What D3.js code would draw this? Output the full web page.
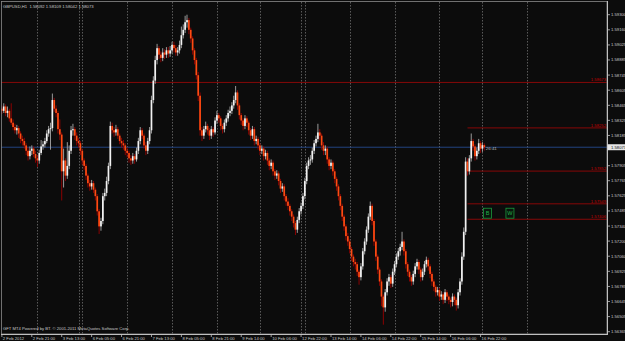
<!DOCTYPE html>
<html><head><meta charset="utf-8">
<script src="https://cdn.jsdelivr.net/npm/d3@7"></script>
<style>html,body{margin:0;padding:0;background:#0c0c0c;overflow:hidden}</style>
</head><body>
<svg id="c" width="625" height="341"></svg>
<script>
const symbol = "GBPUSD,H1";
const lastOHLC = ["1.58092","1.58109","1.58042","1.58073"];
const copyright = "GFT MT4 Powered by BT. \u00a9 2001-2011 MetaQuotes Software Corp.";
const open = [
1.5845,1.5843,1.5841,1.5845,1.5839,1.5841,1.5834,1.5830,1.5826,1.5823,
1.5825,1.5820,1.5815,1.5813,1.5809,1.5804,1.5799,1.5804,1.5806,1.5801,
1.5797,1.5795,1.5802,1.5808,1.5810,1.5813,1.5820,1.5824,1.5825,1.5851,
1.5843,1.5839,1.5824,1.5819,1.5785,1.5795,1.5781,1.5790,1.5804,1.5823,
1.5824,1.5818,1.5813,1.5811,1.5804,1.5795,1.5790,1.5781,1.5774,1.5771,
1.5774,1.5768,1.5762,1.5748,1.5734,1.5739,1.5762,1.5765,1.5776,1.5790,
1.5827,1.5823,1.5821,1.5824,1.5818,1.5813,1.5811,1.5809,1.5804,1.5802,
1.5797,1.5795,1.5799,1.5796,1.5804,1.5813,1.5823,1.5818,1.5809,1.5804,
1.5813,1.5823,1.5851,1.5869,1.5888,1.5899,1.5893,1.5890,1.5895,1.5893,
1.5897,1.5894,1.5897,1.5902,1.5899,1.5895,1.5897,1.5902,1.5911,1.5916,
1.5923,1.5925,1.5916,1.5908,1.5897,1.5888,1.5874,1.5855,1.5823,1.5818,
1.5824,1.5827,1.5823,1.5818,1.5824,1.5821,1.5832,1.5837,1.5834,1.5827,
1.5824,1.5830,1.5834,1.5839,1.5841,1.5846,1.5851,1.5858,1.5846,1.5837,
1.5832,1.5827,1.5834,1.5830,1.5823,1.5818,1.5824,1.5813,1.5815,1.5809,
1.5804,1.5806,1.5799,1.5802,1.5795,1.5790,1.5793,1.5785,1.5781,1.5783,
1.5776,1.5769,1.5771,1.5762,1.5757,1.5753,1.5748,1.5743,1.5737,1.5731,
1.5740,1.5748,1.5753,1.5762,1.5776,1.5790,1.5795,1.5796,1.5804,1.5811,
1.5815,1.5821,1.5818,1.5809,1.5804,1.5806,1.5796,1.5790,1.5793,1.5785,
1.5778,1.5771,1.5762,1.5753,1.5743,1.5734,1.5725,1.5720,1.5713,1.5706,
1.5701,1.5699,1.5692,1.5687,1.5697,1.5711,1.5720,1.5731,1.5743,1.5753,
1.5739,1.5720,1.5706,1.5694,1.5683,1.5669,1.5659,1.5673,1.5683,1.5687,
1.5681,1.5692,1.5699,1.5706,1.5711,1.5715,1.5720,1.5711,1.5699,1.5692,
1.5687,1.5683,1.5690,1.5697,1.5701,1.5694,1.5687,1.5692,1.5699,1.5703,
1.5697,1.5690,1.5683,1.5678,1.5673,1.5675,1.5669,1.5671,1.5666,1.5673,
1.5669,1.5666,1.5664,1.5669,1.5666,1.5661,1.5673,1.5683,1.5706,1.5729,
1.5794,1.5785,1.5797,1.5813,1.5808,1.5799,1.5804,1.5811,1.5806,1.58092];
const high = [
1.5849,1.5846,1.5848,1.5847,1.5845,1.5843,1.5848,1.5833,1.5829,1.5828,
1.5827,1.5822,1.5818,1.5816,1.5811,1.5807,1.5808,1.5809,1.5808,1.5804,
1.5800,1.5805,1.5814,1.5813,1.5816,1.5823,1.5827,1.5830,1.5857,1.5853,
1.5846,1.5841,1.5833,1.5821,1.5806,1.5797,1.5812,1.5809,1.5827,1.5829,
1.5826,1.5821,1.5816,1.5813,1.5806,1.5797,1.5792,1.5783,1.5777,1.5777,
1.5776,1.5770,1.5764,1.5750,1.5742,1.5765,1.5769,1.5780,1.5793,1.5831,
1.5830,1.5826,1.5828,1.5826,1.5820,1.5816,1.5814,1.5811,1.5807,1.5804,
1.5800,1.5802,1.5801,1.5807,1.5816,1.5826,1.5825,1.5820,1.5812,1.5816,
1.5826,1.5855,1.5873,1.5892,1.5903,1.5901,1.5896,1.5899,1.5898,1.5900,
1.5900,1.5901,1.5905,1.5905,1.5902,1.5900,1.5906,1.5919,1.5921,1.5929,
1.5930,1.5927,1.5918,1.5910,1.5899,1.5890,1.5877,1.5858,1.5826,1.5827,
1.5831,1.5829,1.5825,1.5827,1.5826,1.5835,1.5841,1.5839,1.5836,1.5829,
1.5833,1.5837,1.5842,1.5845,1.5849,1.5855,1.5864,1.5860,1.5848,1.5839,
1.5834,1.5837,1.5836,1.5832,1.5825,1.5827,1.5826,1.5818,1.5817,1.5811,
1.5809,1.5808,1.5805,1.5804,1.5797,1.5796,1.5795,1.5787,1.5786,1.5785,
1.5778,1.5774,1.5773,1.5764,1.5760,1.5755,1.5750,1.5745,1.5739,1.5743,
1.5751,1.5756,1.5765,1.5779,1.5793,1.5798,1.5800,1.5807,1.5814,1.5818,
1.5829,1.5824,1.5820,1.5812,1.5809,1.5808,1.5798,1.5796,1.5795,1.5787,
1.5780,1.5773,1.5764,1.5755,1.5745,1.5736,1.5728,1.5722,1.5715,1.5708,
1.5704,1.5701,1.5694,1.5700,1.5714,1.5723,1.5734,1.5746,1.5757,1.5755,
1.5741,1.5722,1.5708,1.5696,1.5685,1.5671,1.5676,1.5686,1.5690,1.5689,
1.5695,1.5702,1.5709,1.5714,1.5718,1.5729,1.5722,1.5713,1.5701,1.5694,
1.5689,1.5693,1.5700,1.5704,1.5703,1.5696,1.5695,1.5702,1.5706,1.5705,
1.5699,1.5692,1.5685,1.5680,1.5678,1.5677,1.5674,1.5673,1.5676,1.5675,
1.5671,1.5668,1.5672,1.5671,1.5668,1.5676,1.5686,1.5710,1.5733,1.5798,
1.5797,1.5800,1.5820,1.5815,1.5810,1.5807,1.5815,1.5813,1.5812,1.58109];
const low = [
1.5840,1.5838,1.5839,1.5836,1.5835,1.5831,1.5828,1.5823,1.5820,1.5819,
1.5816,1.5811,1.5809,1.5806,1.5800,1.5795,1.5796,1.5800,1.5798,1.5793,
1.5789,1.5792,1.5800,1.5805,1.5807,1.5811,1.5817,1.5805,1.5822,1.5840,
1.5835,1.5820,1.5814,1.5758,1.5770,1.5776,1.5778,1.5787,1.5801,1.5818,
1.5814,1.5809,1.5807,1.5800,1.5791,1.5786,1.5777,1.5770,1.5767,1.5768,
1.5765,1.5758,1.5744,1.5727,1.5730,1.5736,1.5758,1.5762,1.5773,1.5787,
1.5820,1.5817,1.5818,1.5815,1.5810,1.5807,1.5805,1.5800,1.5798,1.5793,
1.5791,1.5792,1.5792,1.5794,1.5801,1.5810,1.5815,1.5806,1.5800,1.5801,
1.5810,1.5820,1.5848,1.5866,1.5884,1.5889,1.5886,1.5887,1.5889,1.5890,
1.5890,1.5891,1.5894,1.5895,1.5892,1.5892,1.5894,1.5899,1.5908,1.5913,
1.5918,1.5912,1.5904,1.5893,1.5884,1.5870,1.5850,1.5818,1.5813,1.5815,
1.5821,1.5819,1.5814,1.5815,1.5817,1.5819,1.5829,1.5830,1.5823,1.5820,
1.5821,1.5827,1.5831,1.5836,1.5838,1.5843,1.5848,1.5842,1.5833,1.5828,
1.5823,1.5824,1.5826,1.5819,1.5814,1.5815,1.5809,1.5810,1.5805,1.5800,
1.5801,1.5795,1.5796,1.5791,1.5786,1.5787,1.5781,1.5777,1.5778,1.5772,
1.5765,1.5766,1.5758,1.5753,1.5749,1.5744,1.5739,1.5733,1.5726,1.5728,
1.5737,1.5745,1.5750,1.5759,1.5773,1.5787,1.5791,1.5793,1.5801,1.5808,
1.5812,1.5814,1.5805,1.5800,1.5800,1.5792,1.5786,1.5787,1.5781,1.5774,
1.5767,1.5758,1.5749,1.5739,1.5730,1.5721,1.5716,1.5709,1.5702,1.5697,
1.5694,1.5688,1.5680,1.5684,1.5694,1.5708,1.5717,1.5728,1.5740,1.5735,
1.5716,1.5702,1.5690,1.5679,1.5660,1.5643,1.5655,1.5670,1.5679,1.5677,
1.5678,1.5689,1.5696,1.5703,1.5707,1.5712,1.5707,1.5695,1.5688,1.5683,
1.5679,1.5680,1.5687,1.5694,1.5690,1.5683,1.5684,1.5689,1.5696,1.5693,
1.5686,1.5679,1.5674,1.5669,1.5670,1.5665,1.5666,1.5662,1.5663,1.5665,
1.5662,1.5659,1.5660,1.5661,1.5656,1.5658,1.5670,1.5680,1.5703,1.5726,
1.5781,1.5782,1.5794,1.5804,1.5795,1.5796,1.5801,1.5802,1.5803,1.58042];
const close = [
1.5843,1.5841,1.5845,1.5839,1.5841,1.5834,1.5830,1.5826,1.5823,1.5825,
1.5820,1.5815,1.5813,1.5809,1.5804,1.5799,1.5804,1.5806,1.5801,1.5797,
1.5795,1.5802,1.5808,1.5810,1.5813,1.5820,1.5824,1.5825,1.5851,1.5843,
1.5839,1.5824,1.5819,1.5785,1.5795,1.5781,1.5790,1.5804,1.5823,1.5824,
1.5818,1.5813,1.5811,1.5804,1.5795,1.5790,1.5781,1.5774,1.5771,1.5774,
1.5768,1.5762,1.5748,1.5734,1.5739,1.5762,1.5765,1.5776,1.5790,1.5827,
1.5823,1.5821,1.5824,1.5818,1.5813,1.5811,1.5809,1.5804,1.5802,1.5797,
1.5795,1.5799,1.5796,1.5804,1.5813,1.5823,1.5818,1.5809,1.5804,1.5813,
1.5823,1.5851,1.5869,1.5888,1.5899,1.5893,1.5890,1.5895,1.5893,1.5897,
1.5894,1.5897,1.5902,1.5899,1.5895,1.5897,1.5902,1.5911,1.5916,1.5923,
1.5925,1.5916,1.5908,1.5897,1.5888,1.5874,1.5855,1.5823,1.5818,1.5824,
1.5827,1.5823,1.5818,1.5824,1.5821,1.5832,1.5837,1.5834,1.5827,1.5824,
1.5830,1.5834,1.5839,1.5841,1.5846,1.5851,1.5858,1.5846,1.5837,1.5832,
1.5827,1.5834,1.5830,1.5823,1.5818,1.5824,1.5813,1.5815,1.5809,1.5804,
1.5806,1.5799,1.5802,1.5795,1.5790,1.5793,1.5785,1.5781,1.5783,1.5776,
1.5769,1.5771,1.5762,1.5757,1.5753,1.5748,1.5743,1.5737,1.5731,1.5740,
1.5748,1.5753,1.5762,1.5776,1.5790,1.5795,1.5796,1.5804,1.5811,1.5815,
1.5821,1.5818,1.5809,1.5804,1.5806,1.5796,1.5790,1.5793,1.5785,1.5778,
1.5771,1.5762,1.5753,1.5743,1.5734,1.5725,1.5720,1.5713,1.5706,1.5701,
1.5699,1.5692,1.5687,1.5697,1.5711,1.5720,1.5731,1.5743,1.5753,1.5739,
1.5720,1.5706,1.5694,1.5683,1.5669,1.5659,1.5673,1.5683,1.5687,1.5681,
1.5692,1.5699,1.5706,1.5711,1.5715,1.5720,1.5711,1.5699,1.5692,1.5687,
1.5683,1.5690,1.5697,1.5701,1.5694,1.5687,1.5692,1.5699,1.5703,1.5697,
1.5690,1.5683,1.5678,1.5673,1.5675,1.5669,1.5671,1.5666,1.5673,1.5669,
1.5666,1.5664,1.5669,1.5666,1.5661,1.5673,1.5683,1.5706,1.5729,1.5794,
1.5785,1.5797,1.5813,1.5808,1.5799,1.5804,1.5811,1.5806,1.58092,1.58073];

const priceTicks = [1.59300,1.59160,1.59020,1.58881,1.58741,1.58601,1.58461,1.58322,1.58182,1.58042,1.57902,1.57763,1.57623,1.57483,1.57343,1.57204,1.57064,1.56924,1.56784,1.56645,1.56505,1.56365];
const priceTickLabels = ["1.59300","1.59160","1.59025","1.58885","1.58745","1.58605","1.58465","1.58325","1.58185","1.58045","1.57905","1.57765","1.57625","1.57485","1.57340","1.57200","1.57060","1.56925","1.56785","1.56645","1.56505","1.56365"];
const timeTickBars = [1,17,33,49,65,81,97,113,129,145,161,177,193,209,225,241,257];
const timeTickLabels = ["2 Feb 2012","2 Feb 21:00","3 Feb 13:00","6 Feb 05:00","6 Feb 21:00","7 Feb 13:00","8 Feb 05:00","8 Feb 21:00","9 Feb 14:00","10 Feb 06:00","12 Feb 22:00","13 Feb 14:00","14 Feb 06:00","14 Feb 22:00","15 Feb 14:00","16 Feb 06:00","16 Feb 22:00"];
const separatorBars = [20,42,44,68,92,116,139,161,163,187,211,235,258,282];
const levelPrices = [1.58673,1.58252,1.57852,1.57549,1.57406];
const levelLabels = ["1.58673","1.58252","1.57852","1.57549","1.57406"];
const levelStartBars = [0,250,250,250,250];
const bidPrice = 1.58073;
const bidLabel = "1.58073";
const countdown = "26:41";
const markerBars = [260.7,272.7];
const markerPrice = 1.57462;
const markerGlyphs = ["B","W"];

const W = 625, H = 341, plotR = 607, plotB = 334;
const svg = d3.select("#c");
const font = "'Liberation Sans', Arial, sans-serif";
svg.append("rect").attr("width",W).attr("height",H).attr("fill","#0c0c0c");

const x = d3.scaleLinear().domain([0, 324.6]).range([0, plotR]);
const y = d3.scaleLinear().domain([1.56365, 1.59300]).range([331.7, 14.7]);

svg.append("defs").append("clipPath").attr("id","pc")
  .append("rect").attr("x",1).attr("y",1).attr("width",plotR-1).attr("height",plotB-1);
const plot = svg.append("g").attr("clip-path","url(#pc)");

// separators
plot.selectAll("line.sep").data(separatorBars).join("line")
  .attr("x1",d=>Math.round(x(d))+0.5).attr("x2",d=>Math.round(x(d))+0.5)
  .attr("y1",2).attr("y2",plotB)
  .attr("stroke","#6e6e6e").attr("stroke-width",0.8).attr("stroke-dasharray","1.5,1.5");

// bid line
plot.append("line").attr("x1",1).attr("x2",plotR).attr("y1",y(bidPrice)).attr("y2",y(bidPrice))
  .attr("stroke","#24498c").attr("stroke-width",0.9);

// levels
plot.selectAll("line.lvl").data(levelPrices).join("line")
  .attr("x1",(d,i)=>x(levelStartBars[i])).attr("x2",plotR)
  .attr("y1",d=>y(d)).attr("y2",d=>y(d))
  .attr("stroke","#870808").attr("stroke-width",1);
plot.selectAll("text.lvl").data(levelLabels).join("text")
  .attr("x",plotR-1).attr("y",(d,i)=>y(levelPrices[i])-1)
  .attr("text-anchor","end").attr("font-family",font).attr("font-size",4.2)
  .attr("fill","#c80000").text(d=>d);

// candles
const bars = d3.range(close.length);
const g = plot.append("g");
g.selectAll("line.w").data(bars).join("line")
  .attr("x1",i=>x(i)).attr("x2",i=>x(i))
  .attr("y1",i=>y(high[i])).attr("y2",i=>y(low[i]))
  .attr("stroke",i=> close[i]>=open[i] ? "#a8a8a8" : "#980000").attr("stroke-width",0.9);
g.selectAll("rect.b").data(bars).join("rect")
  .attr("x",i=>x(i)-0.85).attr("width",1.7)
  .attr("y",i=>y(Math.max(open[i],close[i])))
  .attr("height",i=>Math.max(0.8, Math.abs(y(open[i])-y(close[i]))))
  .attr("fill",i=> close[i]>=open[i] ? "#f2f2f2" : "#ff4a12");

// markers
markerBars.forEach((b,i)=>{
  const cx = x(b), cy = y(markerPrice);
  plot.append("rect").attr("x",cx-4).attr("y",cy-5).attr("width",8).attr("height",10)
    .attr("fill","#08160c").attr("stroke","#1c9a3c").attr("stroke-width",0.8);
  plot.append("text").attr("x",cx).attr("y",cy+2).attr("text-anchor","middle")
    .attr("font-family",font).attr("font-size",5.5).attr("fill","#22b04a").text(markerGlyphs[i]);
});

// countdown
plot.append("text").attr("x",x(close.length-1)+1.5).attr("y",y(bidPrice)+2.5)
  .attr("font-family",font).attr("font-size",4.4).attr("fill","#b8b8b8").text(countdown);

// frame
svg.append("rect").attr("x",1.5).attr("y",1.5).attr("width",plotR-1.5).attr("height",plotB-1.5)
  .attr("fill","none").attr("stroke","#8a8a8a").attr("stroke-width",0.8);
svg.append("line").attr("x1",plotR+0.5).attr("x2",plotR+0.5).attr("y1",1).attr("y2",plotB+1)
  .attr("stroke","#c0c0c0").attr("stroke-width",1);
svg.append("line").attr("x1",1).attr("x2",plotR+1).attr("y1",plotB+0.5).attr("y2",plotB+0.5)
  .attr("stroke","#c0c0c0").attr("stroke-width",1);

// right axis (the tick hidden behind the bid box is not labelled)
const shownTicks = priceTicks.map((p,i)=>({p, t:priceTickLabels[i]}))
  .filter(d => Math.abs(y(d.p) - y(bidPrice)) > 5);
const ra = svg.append("g");
ra.selectAll("line").data(shownTicks).join("line")
  .attr("x1",plotR).attr("x2",plotR+3).attr("y1",d=>y(d.p)).attr("y2",d=>y(d.p))
  .attr("stroke","#c0c0c0").attr("stroke-width",0.8);
ra.selectAll("text").data(shownTicks).join("text")
  .attr("x",plotR+4).attr("y",d=>y(d.p)+1.5)
  .attr("font-family",font).attr("font-size",4.2).attr("fill","#c8c8c8").text(d=>d.t);

// bid box
svg.append("rect").attr("x",plotR+0.5).attr("y",y(bidPrice)-3).attr("width",W-plotR).attr("height",6)
  .attr("fill","#e6e6e6");
svg.append("text").attr("x",plotR+4).attr("y",y(bidPrice)+1.6)
  .attr("font-family",font).attr("font-size",4.2).attr("fill","#111").text(bidLabel);

// bottom axis
const ba = svg.append("g");
ba.selectAll("line").data(timeTickBars).join("line")
  .attr("x1",d=>x(d)).attr("x2",d=>x(d)).attr("y1",plotB).attr("y2",plotB+3)
  .attr("stroke","#c0c0c0").attr("stroke-width",0.8);
ba.selectAll("text").data(timeTickLabels).join("text")
  .attr("x",(d,i)=>x(timeTickBars[i])+1).attr("y",339.8)
  .attr("font-family",font).attr("font-size",4.2).attr("fill","#c8c8c8").text(d=>d);

// title & footer
svg.append("text").attr("x",3).attr("y",7.5).attr("font-family",font).attr("font-size",4.2)
  .attr("fill","#c8c8c8").attr("xml:space","preserve").text(symbol + "  " + lastOHLC.join(" "));
svg.append("text").attr("x",3).attr("y",330).attr("font-family",font).attr("font-size",4.2)
  .attr("fill","#c8c8c8").text(copyright);
</script>
</body></html>
